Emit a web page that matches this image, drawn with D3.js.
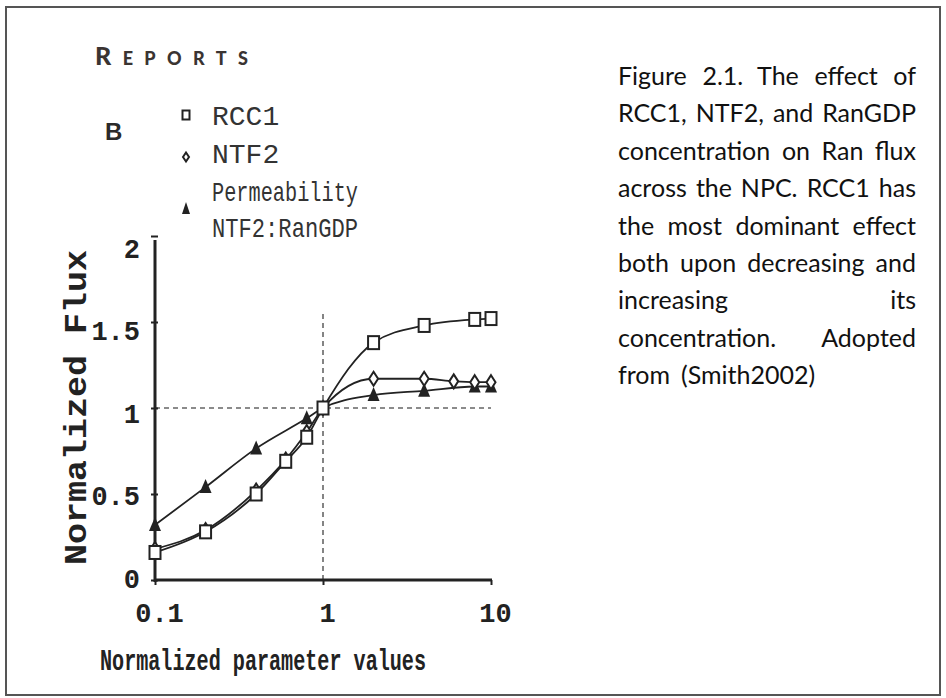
<!DOCTYPE html>
<html>
<head>
<meta charset="utf-8">
<script src="https://cdn.jsdelivr.net/npm/d3@7"></script>
<style>
  html, body { margin: 0; padding: 0; background: #fff; }
  svg { display: block; }
</style>
</head>
<body>
<script>
// ---- data ----------------------------------------------------------------
const rcc1X = [0.1, 0.2, 0.4, 0.6, 0.8, 1, 2, 4, 8, 10];
const rcc1Y = [0.16, 0.28, 0.50, 0.69, 0.83, 1.0, 1.38, 1.48, 1.515, 1.52];

const ntf2X = [0.1, 0.2, 0.4, 0.6, 0.8, 1, 2, 4, 6, 8, 10];
const ntf2Y = [0.18, 0.29, 0.52, 0.70, 0.86, 1.0, 1.17, 1.17, 1.155, 1.15, 1.15];

const permX = [0.1, 0.2, 0.4, 0.8, 1, 2, 4, 8, 10];
const permY = [0.32, 0.54, 0.765, 0.94, 1.0, 1.075, 1.10, 1.125, 1.125];

const xTickValues = [0.1, 1, 10];
const xTickLabels = ["0.1", "1", "10"];
const yTickValues = [0, 0.5, 1, 1.5, 2];
const yTickLabels = ["0", "0.5", "1", "1.5", "2"];

const seriesNames = ["RCC1", "NTF2", "Permeability\nNTF2:RanGDP"];
const seriesShapes = ["square", "diamond", "triangle"];

const xTitle = "Normalized parameter values";
const yTitle = "Normalized Flux";
const panelLetter = "B";
const journalHead = "Reports";

const captionLines = [
  "Figure 2.1. The effect of",
  "RCC1, NTF2, and RanGDP",
  "concentration on Ran flux",
  "across the NPC. RCC1 has",
  "the most dominant effect",
  "both upon decreasing and",
  "increasing its",
  "concentration. Adopted",
  "from (Smith2002)"
];

// ---- setup ---------------------------------------------------------------
const W = 946, H = 698;
const mono = "'Liberation Mono', 'DejaVu Sans Mono', monospace";
const ink = "#222";

const svg = d3.select("body").append("svg")
  .attr("width", W).attr("height", H);

svg.append("rect").attr("width", W).attr("height", H).attr("fill", "#fff");

// page frame
svg.append("rect")
  .attr("x", 6).attr("y", 7).attr("width", 934).attr("height", 688)
  .attr("fill", "none").attr("stroke", "#555").attr("stroke-width", 2);

const x = d3.scaleLog().domain([0.1, 10]).range([155, 491]);
const y = d3.scaleLinear().domain([0, 2]).range([580, 236]);

// ---- journal running head & panel letter ----------------------------------
const head = svg.append("text")
  .attr("x", 95).attr("y", 65)
  .attr("font-family", "Lato, 'Open Sans', sans-serif")
  .attr("font-weight", 900)
  .attr("fill", "#3a3432")
  .attr("textLength", 153).attr("lengthAdjust", "spacing");
head.append("tspan").attr("font-size", 25).text(journalHead[0].toUpperCase());
head.append("tspan").attr("font-size", 18).text(journalHead.slice(1).toUpperCase());

svg.append("text")
  .attr("x", 105).attr("y", 140)
  .attr("font-family", "'Liberation Sans', Arial, sans-serif")
  .attr("font-weight", 700).attr("font-size", 24)
  .attr("fill", "#2a2a2a")
  .text(panelLetter);

// ---- reference lines ------------------------------------------------------
const refLine = { stroke: "#666", "stroke-width": 1.6, "stroke-dasharray": "5,4" };
const hRef = svg.append("line")
  .attr("x1", x(0.1)).attr("x2", x(10)).attr("y1", y(1)).attr("y2", y(1));
const vRef = svg.append("line")
  .attr("x1", x(1)).attr("x2", x(1)).attr("y1", y(0)).attr("y2", y(1.56));
[hRef, vRef].forEach(l => Object.entries(refLine).forEach(([k, v]) => l.attr(k, v)));

// ---- axes -----------------------------------------------------------------
const yAxis = svg.append("g")
  .attr("transform", `translate(${x(0.1)},0)`)
  .call(d3.axisLeft(y).tickValues(yTickValues)
    .tickFormat((d, i) => yTickLabels[i]).tickSizeInner(4).tickSizeOuter(0).tickPadding(11));
yAxis.select(".domain").attr("stroke", ink).attr("stroke-width", 3)
  .attr("d", `M0,${y(0) + 2}V${y(2) + 4}`);
yAxis.selectAll(".tick line").attr("stroke", ink).attr("stroke-width", 2)
  .attr("x1", 3);
// labels sit a little below their ticks, drifting further down toward the top
yAxis.selectAll(".tick text")
  .attr("font-family", mono).attr("font-weight", 700).attr("font-size", 27)
  .attr("fill", ink).attr("dy", null).attr("y", d => 7 + 7 * d);

const xAxis = svg.append("g")
  .attr("transform", `translate(0,${y(0)})`)
  .call(d3.axisBottom(x).tickValues(xTickValues)
    .tickFormat((d, i) => xTickLabels[i]).tickSizeInner(5).tickSizeOuter(0).tickPadding(0));
xAxis.select(".domain").attr("stroke", ink).attr("stroke-width", 3)
  .attr("d", `M${x(0.1) - 1},0H${x(10) + 1}`);
xAxis.selectAll(".tick line").attr("stroke", ink).attr("stroke-width", 2);
xAxis.selectAll(".tick text")
  .attr("font-family", mono).attr("font-weight", 700).attr("font-size", 27)
  .attr("fill", ink).attr("dy", null).attr("y", 42).attr("dx", 4);

// axis titles (tall, narrow bold type)
svg.append("text")
  .attr("transform", "translate(100,670) scale(1,1.3)")
  .attr("font-family", mono).attr("font-weight", 700).attr("font-size", 22)
  .attr("fill", ink)
  .attr("textLength", 326).attr("lengthAdjust", "spacingAndGlyphs")
  .text(xTitle);

svg.append("text")
  .attr("transform", "translate(86,565) rotate(-90) scale(1,1.3)")
  .attr("font-family", mono).attr("font-weight", 700).attr("font-size", 24)
  .attr("fill", ink)
  .attr("textLength", 315).attr("lengthAdjust", "spacingAndGlyphs")
  .text(yTitle);

// ---- series ---------------------------------------------------------------
const series = [
  { xs: rcc1X, ys: rcc1Y, shape: "square" },
  { xs: ntf2X, ys: ntf2Y, shape: "diamond" },
  { xs: permX, ys: permY, shape: "triangle" }
];

const line = d3.line()
  .x(d => x(d[0])).y(d => y(d[1]))
  .curve(d3.curveMonotoneX);

function marker(sel, shape) {
  if (shape === "square") {
    sel.append("rect").attr("x", -5.5).attr("y", -6.5).attr("width", 11).attr("height", 13)
      .attr("fill", "#fff").attr("stroke", ink).attr("stroke-width", 2);
  } else if (shape === "diamond") {
    sel.append("path").attr("d", "M0,-7L4.5,0L0,7L-4.5,0Z")
      .attr("fill", "#fff").attr("stroke", ink).attr("stroke-width", 2);
  } else {
    sel.append("path").attr("d", "M0,-8L6,6H-6Z").attr("fill", ink);
  }
}

series.forEach(s => {
  const pts = s.xs.map((v, i) => [v, s.ys[i]]);
  svg.append("path").datum(pts)
    .attr("d", line).attr("fill", "none")
    .attr("stroke", ink).attr("stroke-width", 1.8);
});

// markers after all lines so they sit on top
[series[2], series[1], series[0]].forEach(s => {
  const pts = s.xs.map((v, i) => [v, s.ys[i]]);
  svg.append("g").selectAll("g").data(pts).join("g")
    .attr("transform", d => `translate(${x(d[0])},${y(d[1])})`)
    .each(function () { marker(d3.select(this), s.shape); });
});

// ---- legend ---------------------------------------------------------------
const legendMarkerY = [115, 157, 208];
const legendTextY = [[125], [163], [201, 237]];
seriesNames.forEach((name, i) => {
  const g = svg.append("g").attr("transform", `translate(186,${legendMarkerY[i]})`);
  if (seriesShapes[i] === "square") {
    g.append("rect").attr("x", -3.5).attr("y", -4.5).attr("width", 7).attr("height", 9)
      .attr("fill", "#fff").attr("stroke", ink).attr("stroke-width", 2);
  } else if (seriesShapes[i] === "diamond") {
    g.append("path").attr("d", "M0,-4.5L3,0L0,4.5L-3,0Z")
      .attr("fill", "#fff").attr("stroke", ink).attr("stroke-width", 2);
  } else {
    g.append("path").attr("d", "M0,-6L4,6H-4Z").attr("fill", ink);
  }
  name.split("\n").forEach((part, j) => {
    const t = svg.append("text")
      .attr("x", 212).attr("y", legendTextY[i][j])
      .attr("font-family", mono).attr("font-size", 28)
      .attr("fill", "#333").text(part);
    if (part.length > 4) t.attr("textLength", 146).attr("lengthAdjust", "spacingAndGlyphs");
  });
});

// ---- caption (justified block) --------------------------------------------
const capLeft = 618, capRight = 916, capTop = 85, capStep = 37.4;
const capFont = "Lato, 'Open Sans', sans-serif";
captionLines.forEach((ln, i) => {
  const words = ln.split(" ");
  const last = i === captionLines.length - 1;
  const t = svg.append("text")
    .attr("y", capTop + i * capStep)
    .attr("font-family", capFont).attr("font-size", 25).attr("fill", "#111");
  const spans = words.map(w => t.append("tspan").text(w));
  const widths = spans.map(s => s.node().getComputedTextLength());
  const total = d3.sum(widths);
  const gap = last ? 11 : (words.length > 1 ? (capRight - capLeft - total) / (words.length - 1) : 0);
  let cx = capLeft;
  spans.forEach((s, k) => { s.attr("x", cx); cx += widths[k] + gap; });
});
</script>
</body>
</html>
